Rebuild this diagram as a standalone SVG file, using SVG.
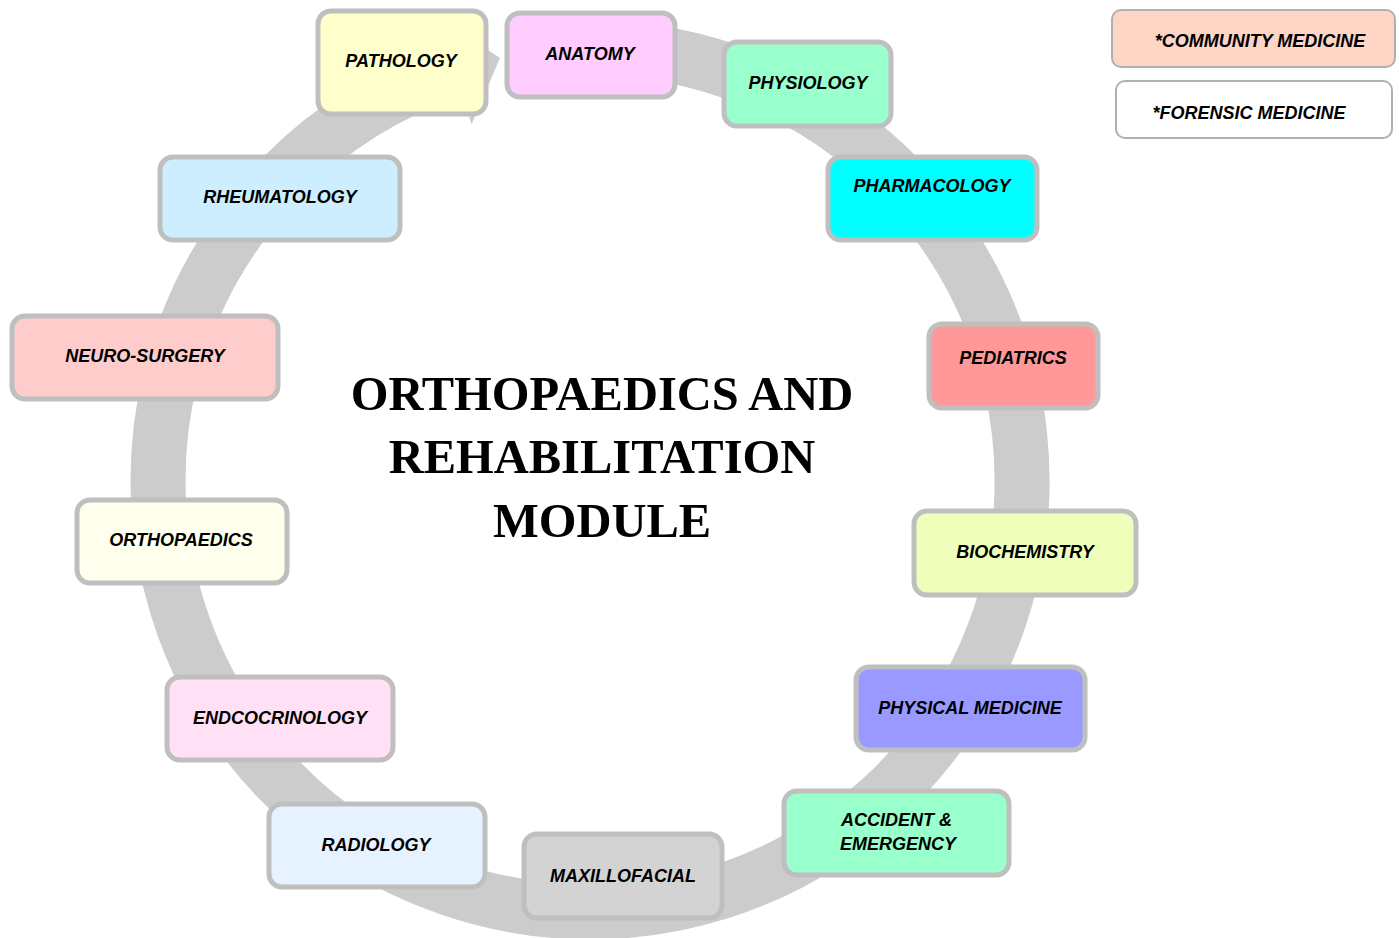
<svg xmlns="http://www.w3.org/2000/svg" width="1399" height="938" viewBox="0 0 1399 938">
<style>
.box{stroke:#bfbfbf;stroke-width:5}
.side{stroke:#b0b0b0;stroke-width:2}
.lbl{font-family:"Liberation Sans",Arial,sans-serif;font-weight:bold;font-style:italic;font-size:18px;fill:#000;text-anchor:middle}
.title{font-family:"Liberation Serif","Times New Roman",serif;font-weight:bold;font-size:48.5px;fill:#000;text-anchor:middle}
</style>
<rect width="1399" height="938" fill="#fff"/>
<g id="connectors">
<path d="M552.35,49.64 A432,432 0 1 1 453.6,70.1" fill="none" stroke="#cccccc" stroke-width="55"/>
<polygon points="435.3,15 471.6,124.2 500,58" fill="#cccccc"/>
</g>
<g id="title">
<text class="title" x="602" y="410">ORTHOPAEDICS AND</text>
<text class="title" x="602" y="473">REHABILITATION</text>
<text class="title" x="602" y="537">MODULE</text>
</g>
<g id="pathology"><rect class="box" x="318" y="11" width="168" height="103" rx="13" fill="#ffffcc"/><text class="lbl" x="401" y="67">PATHOLOGY</text></g>
<g id="anatomy"><rect class="box" x="507" y="13" width="168" height="84" rx="13" fill="#ffccff"/><text class="lbl" x="590" y="60">ANATOMY</text></g>
<g id="physiology"><rect class="box" x="724" y="42" width="167" height="84" rx="13" fill="#99ffcc"/><text class="lbl" x="808" y="89">PHYSIOLOGY</text></g>
<g id="pharmacology"><rect class="box" x="828" y="157" width="209" height="83" rx="13" fill="#00ffff"/><text class="lbl" x="932" y="192">PHARMACOLOGY</text></g>
<g id="pediatrics"><rect class="box" x="929" y="324" width="169" height="84" rx="13" fill="#ff9999"/><text class="lbl" x="1013" y="364">PEDIATRICS</text></g>
<g id="biochemistry"><rect class="box" x="914" y="511" width="222" height="84" rx="13" fill="#efffbb"/><text class="lbl" x="1025" y="558">BIOCHEMISTRY</text></g>
<g id="physical-medicine"><rect class="box" x="856" y="667" width="229" height="83" rx="13" fill="#9999ff"/><text class="lbl" x="970" y="714">PHYSICAL MEDICINE</text></g>
<g id="accident-emergency"><rect class="box" x="784" y="791" width="225" height="84" rx="13" fill="#99ffcc"/><text class="lbl" x="841" y="826" style="text-anchor:start">ACCIDENT &amp;</text><text class="lbl" x="840" y="850" style="text-anchor:start">EMERGENCY</text></g>
<g id="maxillofacial"><rect class="box" x="524" y="834" width="198" height="84" rx="13" fill="#d3d3d3"/><text class="lbl" x="623" y="882">MAXILLOFACIAL</text></g>
<g id="radiology"><rect class="box" x="269" y="804" width="216" height="83" rx="13" fill="#e6f2ff"/><text class="lbl" x="376" y="851">RADIOLOGY</text></g>
<g id="endocrinology"><rect class="box" x="167" y="677" width="226" height="83" rx="13" fill="#ffe0f5"/><text class="lbl" x="280" y="724">ENDCOCRINOLOGY</text></g>
<g id="orthopaedics"><rect class="box" x="77" y="500" width="210" height="83" rx="13" fill="#ffffee"/><text class="lbl" x="181" y="546">ORTHOPAEDICS</text></g>
<g id="neuro-surgery"><rect class="box" x="12" y="316" width="266" height="83" rx="13" fill="#ffcccc"/><text class="lbl" x="145" y="362">NEURO-SURGERY</text></g>
<g id="rheumatology"><rect class="box" x="160" y="157" width="240" height="83" rx="13" fill="#cceeff"/><text class="lbl" x="280" y="203">RHEUMATOLOGY</text></g>
<g id="community-medicine"><rect class="side" x="1112" y="10" width="283" height="57" rx="9" fill="#fdd5c5"/><text class="lbl" x="1260" y="47">*COMMUNITY MEDICINE</text></g>
<g id="forensic-medicine"><rect class="side" x="1116" y="81" width="276" height="57" rx="9" fill="#ffffff"/><text class="lbl" x="1249" y="119">*FORENSIC MEDICINE</text></g>
</svg>
